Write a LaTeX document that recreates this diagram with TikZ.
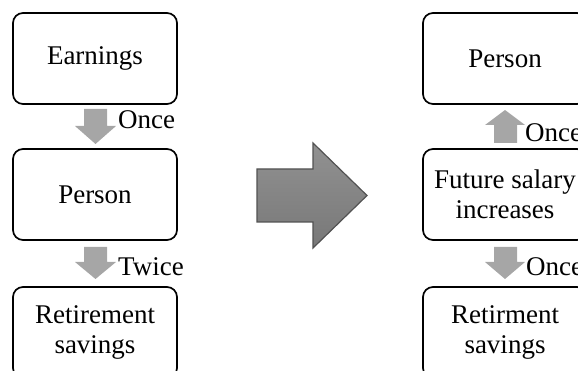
\documentclass[tikz,border=0pt]{standalone}
\usepackage{fontspec}
\setmainfont{Liberation Serif}
\begin{document}
\begin{tikzpicture}[x=1pt,y=-1pt,
  box/.style={draw=black,line width=1.7pt,rounded corners=10pt,fill=white,
    minimum width=164pt,minimum height=91pt,align=center,inner sep=0pt,
    font=\fontsize{27}{30}\selectfont},
  lbl/.style={anchor=base west,inner sep=0pt,font=\fontsize{27}{30}\selectfont},
  smallarrow/.style={fill=black!35,draw=none},
  bigarrow/.style={draw=black!68,line width=1.2pt,top color=black!43,bottom color=black!53}]
\useasboundingbox (0,0) rectangle (578,371);
\clip (0,0) rectangle (578,371);
% left column
\node[box] (earn) at (95,58.5) {Earnings};
\node[box] (personL) at (95,194.5) {Person};
\node[box] (retL) at (95,332.5) {Retirement\\savings};
% right column
\node[box] (personR) at (505,58.5) {Person};
\node[box] (future) at (505,194.5) {Future salary\\increases};
\node[box] (retR) at (505,332.5) {Retirment\\savings};
% small block arrows
\fill[smallarrow] (84,109) -- (107,109) -- (107,126) -- (116,126) -- (95.5,144) -- (75,126) -- (84,126) -- cycle;
\fill[smallarrow] (84,247) -- (107,247) -- (107,262) -- (116,262) -- (95.5,279) -- (75,262) -- (84,262) -- cycle;
\fill[smallarrow] (494,143) -- (517,143) -- (517,125) -- (525,125) -- (505,110) -- (485,125) -- (494,125) -- cycle;
\fill[smallarrow] (494,247) -- (517,247) -- (517,262) -- (525,262) -- (505,279) -- (485,262) -- (494,262) -- cycle;
% labels
\node[lbl] (l1) at (118,129) {Once};
\node[lbl] (l2) at (118,276) {Twice};
\node[lbl] (l3) at (525,142) {Once};
\node[lbl] (l4) at (526,276) {Once};
% big arrow
\draw[bigarrow] (257,169) -- (313,169) -- (313,143) -- (367,195.5) -- (313,248) -- (313,222) -- (257,222) -- cycle;
\end{tikzpicture}
\end{document}
